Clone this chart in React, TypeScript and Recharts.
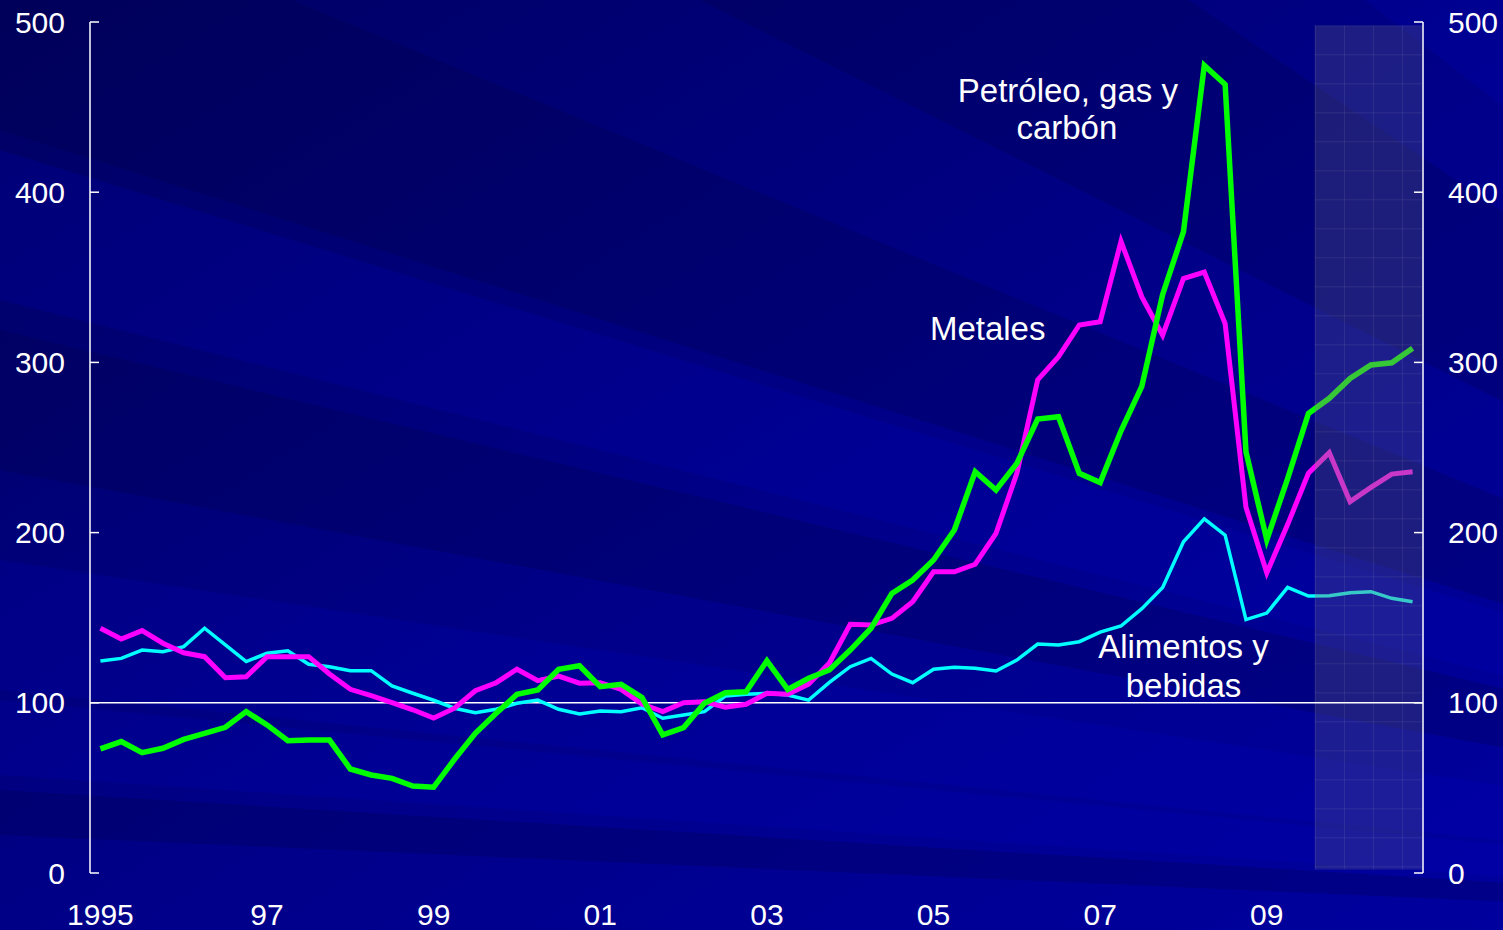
import React from 'react';
import {
  LineChart,
  Line,
  XAxis,
  YAxis,
  ReferenceArea,
  ReferenceLine,
  ReferenceDot,
} from 'recharts';

// Índices de precios de materias primas, trimestral 1995T1 - 2010T4
const START_YEAR = 1995;
const yearLabels = ['1995', '97', '99', '01', '03', '05', '07', '09'];
const yTicks = [0, 100, 200, 300, 400, 500];

const metales = [
  143.8, 137.5, 142.4, 135, 129.4, 127.1, 114.7, 115.3,
  127.1, 127.1, 127.1, 116.9, 107.9, 104.2, 100.1, 95.9,
  91, 96.8, 107.1, 111.8, 119.7, 113, 115.7, 111.5,
  111.8, 107.9, 99.3, 94.8, 100.1, 100.6, 97.4, 99.1,
  105.6, 105, 110.9, 123.4, 146.1, 145.7, 149.6, 159.4,
  177, 177, 181.4, 199.6, 234.8, 289.7, 303.4, 322,
  323.9, 371.1, 338.5, 316, 349.3, 353.1, 322.8, 214.9,
  176.4, 204.7, 234.9, 247, 218.2, 226.6, 234.4, 235.8,
];

const petroleo = [
  72.9, 77.2, 70.7, 73.3, 78.5, 82.1, 85.6, 94.8,
  87, 77.7, 78.1, 78.1, 61.1, 57.6, 55.6, 51.1,
  50.4, 66.8, 82.1, 93.8, 105, 107.5, 119.7, 121.8,
  109.5, 110.9, 103.2, 81.1, 85.4, 99.7, 105.9, 106.5,
  124.7, 107.9, 114.4, 119.3, 131, 143.8, 164.3, 172.1,
  183.9, 201.5, 235.8, 225, 240.7, 266.7, 268.1, 234.8,
  229.4, 259.8, 285.9, 339.9, 376.8, 474.5, 463.3, 247.5,
  195.7, 231.7, 270, 278.9, 290.6, 298.5, 299.8, 308.3,
];

const alimentos = [
  124.6, 126.1, 131, 130, 133, 143.8, 134, 124.2,
  129.1, 130.6, 122.6, 121.2, 118.9, 118.9, 109.9, 105.6,
  101.5, 96.8, 94.2, 96.2, 99.7, 101.6, 96.2, 93.4,
  95.2, 94.8, 97.1, 90.9, 92.8, 94.8, 104, 105,
  105.6, 104.6, 101.6, 112, 121.2, 126.1, 116.9, 111.8,
  119.7, 120.9, 120.3, 118.7, 125.1, 134.5, 134, 135.9,
  141.5, 145.1, 155.3, 167.7, 194.6, 208.1, 198.5, 148.9,
  152.7, 167.8, 162.7, 162.9, 164.7, 165.3, 161.4, 159.4,
];

// inicio de la zona de proyección (en trimestres desde 1995T1)
const forecastStart = 58.8;

const seriesLabels = [
  { text: 'Petróleo, gas y', x: 46.95, y: 460 },
  { text: 'carbón', x: 46.9, y: 438 },
  { text: 'Metales', x: 43.1, y: 320 },
  { text: 'Alimentos y', x: 52.5, y: 133 },
  { text: 'bebidas', x: 52.5, y: 110.5 },
];

const data = metales.map((m, i) => ({
  quarter: `${START_YEAR + Math.floor(i / 4)}T${(i % 4) + 1}`,
  x: i + 0.5,
  metales: m,
  petroleo: petroleo[i],
  alimentos: alimentos[i],
}));

const nQuarters = data.length;
const yearBoundaries = Array.from({ length: nQuarters / 4 - 1 }, (_, k) => (k + 1) * 4);
const labelTicks = yearLabels.map((_, k) => k * 8 + 0.5);
// fracción del trazo de cada línea donde empieza la proyección
const splitAt = (forecastStart - 0.5) / (nQuarters - 1);

const FONT = '"Liberation Sans", Arial, sans-serif';
const AXIS = '#ffffff';
const TICK_GAP = 25;
const TICK_LEN = 9;

const series = [
  { key: 'alimentos', color: '#00ffff', dim: '#37c8c8', width: 3.5 },
  { key: 'metales', color: '#ff00ff', dim: '#c837c8', width: 5 },
  { key: 'petroleo', color: '#00ff00', dim: '#37c837', width: 5.5 },
];

const LeftTick = ({ x, y, payload }: any) => (
  <g>
    <line x1={x + TICK_GAP} x2={x + TICK_GAP + TICK_LEN} y1={y} y2={y} stroke={AXIS} strokeWidth={1.5} />
    <text x={x} y={y} dy="0.355em" textAnchor="end" fill="#fff" fontSize={30} fontFamily={FONT}>
      {payload.value}
    </text>
  </g>
);

const RightTick = ({ x, y, payload }: any) => (
  <g>
    <line x1={x - TICK_GAP} x2={x - TICK_GAP - TICK_LEN} y1={y} y2={y} stroke={AXIS} strokeWidth={1.5} />
    <text x={x} y={y} dy="0.355em" textAnchor="start" fill="#fff" fontSize={30} fontFamily={FONT}>
      {payload.value}
    </text>
  </g>
);

const BottomTick = ({ x, y }: any) => (
  <line x1={x} x2={x} y1={y} y2={y - 7} stroke={AXIS} strokeWidth={1.5} />
);

// fondo con rayos, solo decorativo
const FX = 2600;
const FY = 950;
const wedge = (a: number, b: number) => `${FX},${FY} 0,${a} 0,${b}`;
const darkRays = [
  [-2600, -1500],
  [-800, -350],
  [-120, 130],
  [330, 470],
  [790, 835],
];
const lightRays = [
  [-1500, -1050],
  [150, 300],
  [560, 690],
  [700, 775],
];

const Background = () => (
  <svg width={1503} height={930} style={{ position: 'absolute', left: 0, top: 0 }}>
    <defs>
      <linearGradient id="bg" x1="0" y1="0" x2="1" y2="1">
        <stop offset="0%" stopColor="#000062" />
        <stop offset="55%" stopColor="#00008a" />
        <stop offset="100%" stopColor="#00009e" />
      </linearGradient>
    </defs>
    <rect width={1503} height={930} fill="url(#bg)" />
    {darkRays.map(([a, b], i) => (
      <polygon key={`d${i}`} points={wedge(a, b)} fill="#000040" opacity={0.22} />
    ))}
    {lightRays.map(([a, b], i) => (
      <polygon key={`l${i}`} points={wedge(a, b)} fill="#0000d0" opacity={0.16} />
    ))}
  </svg>
);

export default function App() {
  return (
    <div style={{ position: 'fixed', left: 0, top: 0, width: 1503, height: 930, overflow: 'hidden' }}>
      <Background />
      <div style={{ position: 'absolute', left: 0, top: 0 }}>
        <LineChart
          width={1503}
          height={930}
          data={data}
          margin={{ top: 22, right: 0, bottom: 0, left: 0 }}
          style={{ fontFamily: FONT }}
        >
          <defs>
            <pattern id="forecastGrid" patternUnits="userSpaceOnUse" x={10} y={25.3} width={29} height={29}>
              <rect width={29} height={29} fill="#808080" fillOpacity={0.45} />
              <path d="M0 0 H29 M0 0 V29" stroke="#b4b4b4" strokeOpacity={0.55} strokeWidth={1} fill="none" />
            </pattern>
            {series.map((s) => (
              <linearGradient key={s.key} id={`stroke-${s.key}`} x1="0" y1="0" x2="1" y2="0">
                <stop offset={splitAt} stopColor={s.color} />
                <stop offset={splitAt} stopColor={s.dim} />
              </linearGradient>
            ))}
          </defs>
          <XAxis
            xAxisId="top"
            orientation="top"
            dataKey="x"
            type="number"
            domain={[0, nQuarters]}
            height={0}
            tick={false}
            tickLine={false}
            axisLine={{ stroke: AXIS, strokeWidth: 1.5 }}
          />
          <XAxis
            xAxisId="q"
            dataKey="x"
            type="number"
            domain={[0, nQuarters]}
            ticks={yearBoundaries}
            interval={0}
            height={0}
            tickSize={0}
            tickMargin={0}
            tick={<BottomTick />}
            tickLine={false}
            axisLine={{ stroke: AXIS, strokeWidth: 1.5 }}
          />
          <XAxis
            xAxisId="lbl"
            dataKey="x"
            type="number"
            domain={[0, nQuarters]}
            ticks={labelTicks}
            interval={0}
            height={57}
            axisLine={false}
            tickLine={false}
            tickMargin={31}
            tickSize={0}
            tickFormatter={(v: number) => yearLabels[Math.round((v - 0.5) / 8)]}
            tick={{ fill: '#ffffff', fontSize: 30, fontFamily: FONT }}
          />
          <YAxis
            yAxisId="left"
            domain={[0, 500]}
            ticks={yTicks}
            interval={0}
            allowDataOverflow
            width={90}
            tickSize={0}
            tickMargin={TICK_GAP}
            tickLine={false}
            axisLine={{ stroke: AXIS, strokeWidth: 1.5 }}
            tick={<LeftTick />}
          />
          <YAxis
            yAxisId="right"
            orientation="right"
            domain={[0, 500]}
            ticks={yTicks}
            interval={0}
            allowDataOverflow
            width={80}
            tickSize={0}
            tickMargin={TICK_GAP}
            tickLine={false}
            axisLine={{ stroke: AXIS, strokeWidth: 1.5 }}
            tick={<RightTick />}
          />
          <ReferenceArea
            xAxisId="q"
            yAxisId="left"
            x1={forecastStart}
            x2={nQuarters - 0.05}
            y1={2}
            y2={498}
            fill="url(#forecastGrid)"
            stroke="none"
          />
          <ReferenceLine yAxisId="left" xAxisId="q" y={100} stroke="#ffffff" strokeWidth={1.5} />
          {series.map((s) => (
            <Line
              key={s.key}
              xAxisId="q"
              yAxisId="left"
              dataKey={s.key}
              stroke={`url(#stroke-${s.key})`}
              strokeWidth={s.width}
              dot={false}
              isAnimationActive={false}
            />
          ))}
          {seriesLabels.map((l) => (
            <ReferenceDot
              key={l.text}
              xAxisId="q"
              yAxisId="left"
              x={l.x}
              y={l.y}
              r={0}
              fill="none"
              stroke="none"
              label={{ value: l.text, position: 'center', fill: '#ffffff', fontSize: 33, fontFamily: FONT }}
            />
          ))}
        </LineChart>
      </div>
    </div>
  );
}
